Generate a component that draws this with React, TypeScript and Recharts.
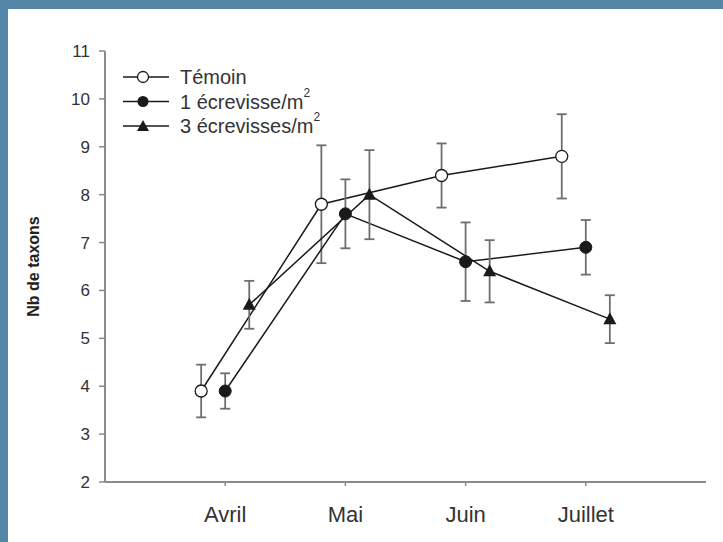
import React from "react";
import { LineChart, Line, XAxis, YAxis, ErrorBar } from "recharts";

const months = ["Avril", "Mai", "Juin", "Juillet"];
const yTicks = [2, 3, 4, 5, 6, 7, 8, 9, 10, 11];

// mean number of taxa per month, with error (±)
const temoin = [3.9, 7.8, 8.4, 8.8];
const temoinErr = [0.55, 1.23, 0.67, 0.88];
const ecr1 = [3.9, 7.6, 6.6, 6.9];
const ecr1Err = [0.37, 0.72, 0.82, 0.57];
const ecr3 = [5.7, 8.0, 6.4, 5.4];
const ecr3Err = [0.5, 0.93, 0.65, 0.5];

// horizontal dodge of each series around the month tick
const dodge = [-0.2, 0, 0.2];

const FONT = "'Liberation Sans', Arial, sans-serif";
const INK = "#1a1a1a";
const AXIS = "#8a8a8a";
const ERR = "#6e6e6e";

const build = (vals: number[], errs: number[], d: number) =>
  months.map((m, i) => ({ x: i + 1 + d, y: vals[i], err: errs[i], month: m }));

const temoinData = build(temoin, temoinErr, dodge[0]);
const ecr1Data = build(ecr1, ecr1Err, dodge[1]);
const ecr3Data = build(ecr3, ecr3Err, dodge[2]);

const Triangle = (props: any) => {
  const { cx, cy, index } = props;
  if (cx == null || cy == null) return null;
  return (
    <polygon
      key={`tri-${index}`}
      points={`${cx},${cy - 7} ${cx - 6.5},${cy + 5} ${cx + 6.5},${cy + 5}`}
      fill={INK}
    />
  );
};

const YLabel = (props: any) => {
  const vb = props.viewBox || {};
  const x = (vb.x ?? 0) + 33;
  const y = (vb.y ?? 51) + (vb.height ?? 431) / 2;
  return (
    <text
      x={x}
      y={y}
      transform={`rotate(-90 ${x} ${y})`}
      textAnchor="middle"
      dominantBaseline="central"
      fontFamily={FONT}
      fontSize={16}
      fontWeight="bold"
      fill="#222"
    >
      Nb de taxons
    </text>
  );
};

const legendRows = [
  { label: "Témoin", sup: "", kind: "open" },
  { label: "1 écrevisse/m", sup: "2", kind: "filled" },
  { label: "3 écrevisses/m", sup: "2", kind: "tri" },
];

const ChartLegend = () => (
  <svg
    width={280}
    height={80}
    style={{ position: "absolute", left: 118, top: 62 }}
  >
    {legendRows.map((r, i) => {
      const y = 15 + i * 24.5;
      return (
        <g key={r.label}>
          <line x1={5} x2={51} y1={y} y2={y} stroke={INK} strokeWidth={1.5} />
          {r.kind === "open" && (
            <circle cx={25} cy={y} r={5.5} fill="#fff" stroke={INK} strokeWidth={1.3} />
          )}
          {r.kind === "filled" && <circle cx={25} cy={y} r={5.5} fill={INK} />}
          {r.kind === "tri" && (
            <polygon points={`25,${y - 6} ${19},${y + 5} ${31},${y + 5}`} fill={INK} />
          )}
          <text
            x={62}
            y={y}
            dominantBaseline="central"
            fontFamily={FONT}
            fontSize={20}
            fill="#333"
          >
            {r.label}
            {r.sup && (
              <tspan dy={-9} fontSize={12}>
                {r.sup}
              </tspan>
            )}
          </text>
        </g>
      );
    })}
  </svg>
);

export default function App() {
  return (
    <div
      style={{
        position: "fixed",
        left: 0,
        top: 0,
        width: 723,
        height: 542,
        background: "#fff",
        overflow: "hidden",
      }}
    >
      <div style={{ position: "absolute", left: 0, top: 0, width: 723, height: 9, background: "#5686a7" }} />
      <div style={{ position: "absolute", left: 0, top: 0, width: 8, height: 542, background: "#5686a7" }} />
      <div style={{ position: "absolute", left: 0, top: 0 }}>
        <LineChart
          width={723}
          height={542}
          margin={{ top: 51, right: 17, left: 0, bottom: 30 }}
        >
          <XAxis
            type="number"
            dataKey="x"
            domain={[0, 5]}
            ticks={[1, 2, 3, 4]}
            tickFormatter={(v: number) => months[v - 1] ?? ""}
            allowDuplicatedCategory={false}
            height={30}
            tickSize={4}
            tickMargin={20}
            stroke={AXIS}
            axisLine={{ stroke: AXIS, strokeWidth: 2 }}
            tickLine={{ stroke: AXIS, strokeWidth: 1.5 }}
            tick={{ fontSize: 22, fill: "#333", fontFamily: FONT }}
          />
          <YAxis
            type="number"
            domain={[2, 11]}
            ticks={yTicks}
            width={105}
            tickSize={6}
            tickMargin={9}
            interval={0}
            axisLine={{ stroke: AXIS, strokeWidth: 2 }}
            tickLine={{ stroke: AXIS, strokeWidth: 1.5 }}
            tick={{ fontSize: 17, fill: "#333", fontFamily: FONT }}
            label={{ content: YLabel }}
          />
          <Line
            data={temoinData}
            dataKey="y"
            name="Témoin"
            stroke={INK}
            strokeWidth={1.5}
            isAnimationActive={false}
            dot={{ r: 6, fill: "#fff", stroke: INK, strokeWidth: 1.3 }}
          >
            <ErrorBar dataKey="err" direction="y" width={5} stroke={ERR} strokeWidth={1.8} />
          </Line>
          <Line
            data={ecr1Data}
            dataKey="y"
            name="1 écrevisse/m²"
            stroke={INK}
            strokeWidth={1.5}
            isAnimationActive={false}
            dot={{ r: 6, fill: INK, stroke: INK, strokeWidth: 1 }}
          >
            <ErrorBar dataKey="err" direction="y" width={5} stroke={ERR} strokeWidth={1.8} />
          </Line>
          <Line
            data={ecr3Data}
            dataKey="y"
            name="3 écrevisses/m²"
            stroke={INK}
            strokeWidth={1.5}
            isAnimationActive={false}
            dot={Triangle}
          >
            <ErrorBar dataKey="err" direction="y" width={5} stroke={ERR} strokeWidth={1.8} />
          </Line>
        </LineChart>
      </div>
      <ChartLegend />
    </div>
  );
}
